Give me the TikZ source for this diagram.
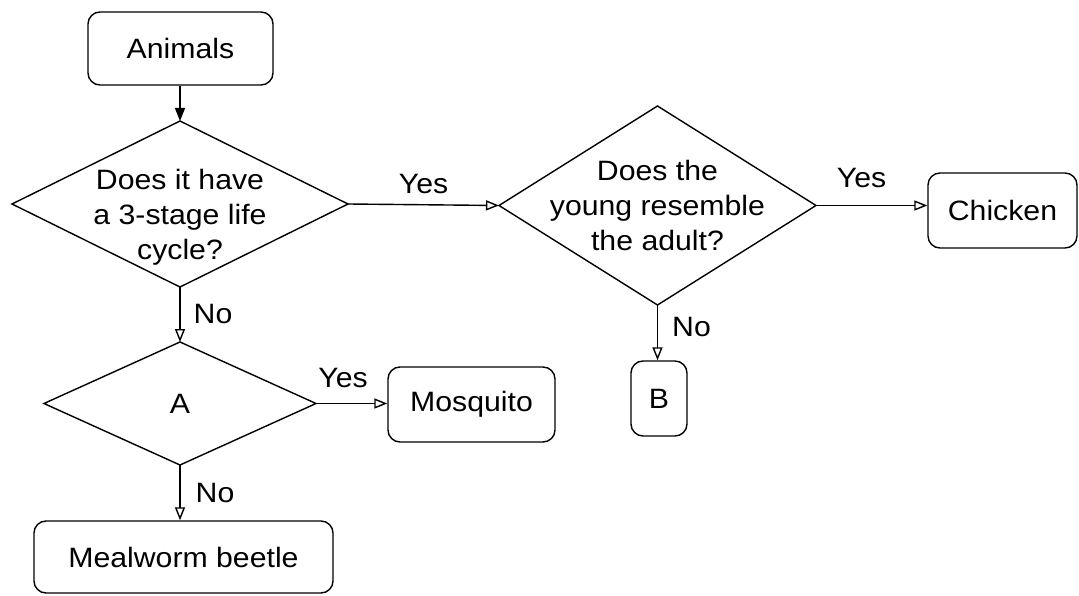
\documentclass[tikz,border=0pt]{standalone}
\usepackage{fontspec}
\setmainfont{Liberation Sans}[FakeStretch=1.08]
\usetikzlibrary{shapes.geometric, arrows.meta}

\tikzset{
    box/.style = {draw, rectangle, rounded corners = 12pt, line width = 1.4pt, inner sep = 0pt},
    question/.style = {draw, diamond, line width = 1.4pt, inner sep = 0pt, outer sep = 0pt},
    ask/.style 2 args = {label = {[align = center, inner sep = 0pt, yshift = #1]center:{#2}}},
    flow/.style = {line width = 1.4pt, -{Triangle[open, length = 13pt, width = 10pt]}},
    start/.style = {line width = 1.4pt, -{Triangle[length = 13pt, width = 10pt]}},
    answer/.style = {inner sep = 0pt}
}

\begin{document}
\begin{tikzpicture}[x = 1pt, y = -1pt, font = \fontsize{28pt}{35pt}\selectfont]
            \useasboundingbox (0, 0) rectangle (1079, 596);

            \draw
                (180.5, 48.5) node (animals) [box, minimum width = 185pt, minimum height = 73pt] {Animals}
                (180, 204) node (stages) [question, minimum width = 336pt, minimum height = 166pt,
                    ask = {-13pt}{Does it have\\a 3-stage life\\cycle?}] {}
                (657.5, 205.5) node (resemble) [question, minimum width = 317pt, minimum height = 199pt,
                    ask = {0pt}{Does the\\young resemble\\the adult?}] {}
                (1002.5, 210.5) node (chicken) [box, minimum width = 149pt, minimum height = 75pt] {Chicken}

                (180, 403.5) node (a) [question, minimum width = 272pt, minimum height = 123pt] {A}
                (471.5, 404.5) node (mosquito) [box, minimum width = 167pt, minimum height = 75pt] {Mosquito}
                (659, 398.5) node (b) [box, minimum width = 56pt, minimum height = 75pt] {B}
                (183.5, 557) node (mealworm) [box, minimum width = 299pt, minimum height = 72pt] {Mealworm beetle}
            ;

            \draw[start] (animals.south -| stages.north) -- (stages.north);
            \draw[flow] (stages.east) -- node [answer, above = 10pt] {Yes} (resemble.west);
            \draw[flow] (resemble.east) -- node [answer, above = 17pt, pos = 0.41] {Yes} (chicken.west |- resemble.east);
            \draw[flow] (stages.south) -- node [answer, right = 13pt] {No} (a.north);
            \draw[flow] (a.east) -- node [answer, above = 15pt, pos = 0.38] {Yes} (mosquito.west |- a.east);
            \draw[flow] (resemble.south) -- node [answer, right = 14pt, pos = 0.4] {No} (resemble.south |- b.north);
            \draw[flow] (a.south) -- node [answer, right = 15pt] {No} (a.south |- mealworm.north);

        \end{tikzpicture}
\end{document}
